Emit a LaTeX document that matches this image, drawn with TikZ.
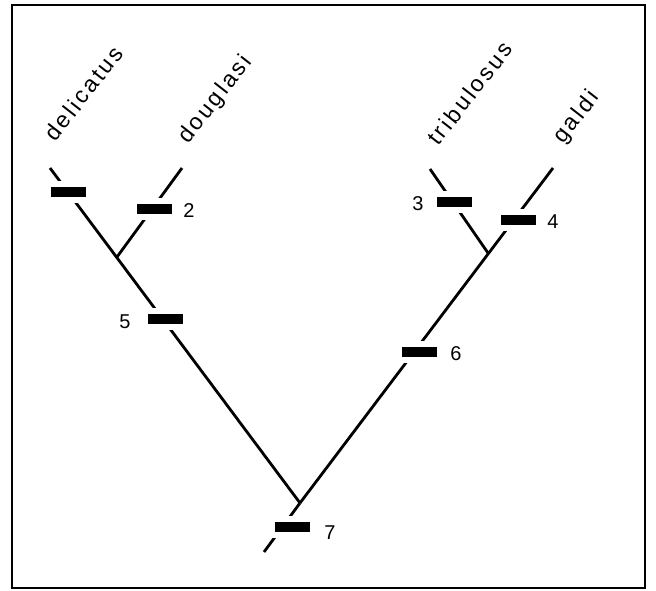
\documentclass[tikz,border=0pt]{standalone}
\usepackage{fontspec}
\setmainfont{Liberation Sans}
\newfontfamily\taxfont[LetterSpace=12]{Liberation Sans}
\begin{document}
\begin{tikzpicture}[x=1pt,y=-1pt,
  branch/.style={line width=2.8pt},
  bar/.style={rectangle,fill=black,draw=white,line width=6pt,minimum width=41pt,minimum height=16pt,inner sep=0pt},
  num/.style={font=\fontsize{20}{20}\selectfont,inner sep=0pt},
  taxon/.style={font=\taxfont\fontsize{23}{23}\selectfont,rotate=52,anchor=base west,inner sep=0pt}]
\useasboundingbox (0,0) rectangle (656,591);
\draw[line width=2.8pt] (12,5) rectangle (645,588);
% coordinates
\coordinate (root) at (300,503);
\coordinate (base) at (264,552);
\coordinate (tdel) at (50,168);
\coordinate (tdou) at (182,168);
\coordinate (jl) at (117,257);
\coordinate (ttri) at (430,169);
\coordinate (tgal) at (553,168);
\coordinate (jr) at (488,253);
% branches
\draw[branch] (base) -- (root);
\draw[branch] (root) -- (tdel);
\draw[branch] (root) -- (tgal);
\draw[branch] (jl) -- (tdou);
\draw[branch] (jr) -- (ttri);
% bars
\node[bar] (b1) at (68,192) {};
\node[bar] (b2) at (154,209) {};
\node[bar] (b3) at (454,202) {};
\node[bar] (b4) at (518,220) {};
\node[bar] (b5) at (165,319) {};
\node[bar] (b6) at (419,352) {};
\node[bar] (b7) at (292,527) {};
% numbers
\node[num] (n2) at (189,211) {2};
\node[num] (n3) at (418,204) {3};
\node[num] (n4) at (553,222) {4};
\node[num] (n5) at (125,322) {5};
\node[num] (n6) at (456,354) {6};
\node[num] (n7) at (330,533) {7};
% taxa
\node[taxon] (ldel) at (55,143) {delicatus};
\node[taxon] (ldou) at (188,145) {douglasi};
\node[taxon] (ltri) at (438,147) {tribulosus};
\node[taxon] (lgal) at (563,145) {galdi};
\end{tikzpicture}
\end{document}
